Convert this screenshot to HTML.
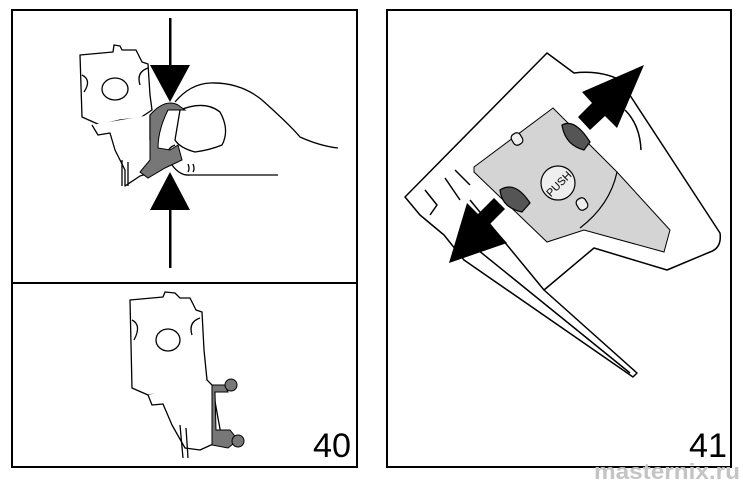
<!DOCTYPE html>
<html><head><style>
html,body{margin:0;padding:0;background:#fff;}
svg{display:block;}
</style></head><body>
<svg width="743" height="483" viewBox="0 0 743 483" xmlns="http://www.w3.org/2000/svg" font-family="Liberation Sans, sans-serif">
<g fill="none" stroke="#000" stroke-width="2">
<rect x="12" y="10" width="345" height="457"/>
<line x1="12" y1="283" x2="357" y2="283"/>
<rect x="387" y="10" width="344" height="457"/>
</g>
<g stroke="#000" stroke-width="1.3" fill="#fff" stroke-linejoin="round">
<path d="M80 55 L113 52 L114 45 L120 46 L122 50 L136 50 L142 62 L148 64 L150 95 L152 110 L140 118 L120 120 L100 125 L82 117 Z"/>
<ellipse cx="115" cy="89" rx="13" ry="11"/>
<path d="M82 75 Q92 80 84 92"/>
<path d="M148 68 Q136 72 140 85"/>
<path d="M92 125 L98 135 L110 133 L115 150 L125 170 L125 186 L140 176 L160 170 L150 140 L150 115"/>
<line x1="122" y1="160" x2="122" y2="186"/>
<line x1="128" y1="162" x2="128" y2="186"/>
<path d="M175 102 Q190 84 210 83 Q240 82 262 100 Q290 125 300 137 Q320 146 338 148"/>
<path d="M175 145 Q162 150 172 165 Q180 176 190 175 L278 175"/>
<path d="M180 110 Q205 100 220 112 Q230 130 222 145 Q210 150 195 152 Q180 148 175 140 Z"/>
<path d="M188 164 Q190 169 188 172 M193 164 Q195 169 193 172"/>
</g>
<path d="M150 115 Q165 98 178 105 L185 110 L168 110 Q158 130 158 148 L170 150 L178 145 L182 160 L165 168 L148 178 L140 172 L150 160 L150 140 Z" fill="#777" stroke="#000" stroke-width="1"/>
<g fill="#000">
<rect x="169" y="18" width="2.5" height="50"/>
<polygon points="150,65 190,65 170,102"/>
<polygon points="150,210 190,210 170,172"/>
<rect x="169" y="208" width="2.5" height="60"/>
</g>
<g stroke="#000" stroke-width="1.3" fill="#fff" stroke-linejoin="round">
<path d="M130 300 L163 297 L165 292 L175 293 L180 298 L190 298 L196 310 L202 312 L204 350 L207 380 L195 388 L170 392 L148 395 L132 388 Z"/>
<ellipse cx="168" cy="340" rx="12" ry="11"/>
<path d="M132 320 Q142 325 134 340"/>
<path d="M200 318 Q188 322 192 335"/>
<path d="M148 395 L152 405 L163 404 L172 425 L185 448 L200 450 L222 440 L212 385 L207 380"/>
<line x1="180" y1="425" x2="183" y2="458"/>
<line x1="186" y1="428" x2="188" y2="458"/>
</g>
<g fill="#777" stroke="#000" stroke-width="1">
<path d="M212 385 L225 385 L228 392 L215 392 L216 430 L230 430 L238 440 L228 448 L212 445 Z"/>
<circle cx="231" cy="385" r="6"/>
<circle cx="238" cy="441" r="6"/>
</g>
<text x="313" y="457" font-size="34" fill="#000" textLength="38" lengthAdjust="spacingAndGlyphs">40</text>
<g stroke="#000" stroke-width="1.5" fill="#fff" stroke-linejoin="round">
<path d="M405 197 L547 53 L574 73 Q600 70 620 80 L720 233 Q722 248 710 252 L667 270 L594 248 L544 290 L637 373 L633 377 L464 260 L444 235 L420 215 Z"/>
<path d="M425 190 L437 205 L430 215 M445 178 L460 200 M455 170 L470 185"/>
<path d="M470 200 L544 290 M478 250 L630 373"/>
<path d="M625 110 Q640 125 641 150"/>
</g>
<path d="M474 167 L553 108 L617 172 L670 230 L664 252 L584 230 L547 242 L474 172 Z" fill="#d4d4d4" stroke="#000" stroke-width="1"/>
<path d="M617 172 Q610 205 580 228" fill="none" stroke="#000" stroke-width="1.2"/>
<g stroke="#000" stroke-width="1.2">
<path d="M562 125 Q575 118 590 142 L584 150 Q565 145 562 125 Z" fill="#555"/>
<path d="M500 190 Q515 180 530 203 L522 212 Q502 208 500 190 Z" fill="#555"/>
<rect x="512" y="133" width="10" height="12" rx="4" fill="#eee" transform="rotate(-30 517 139)"/>
<rect x="577" y="198" width="10" height="12" rx="4" fill="#eee" transform="rotate(-30 582 204)"/>
<circle cx="558" cy="183" r="17" fill="#eee"/>
</g>
<text x="558" y="188" font-size="11" text-anchor="middle" transform="rotate(-45 558 183)">PUSH</text>
<g fill="#000">
<polygon points="644,65 617,128 605,116 590,130 578,117 592,103 582,92"/>
<polygon points="449,263 467,203 478,214 494,198 505,209 490,224 507,243"/>
</g>
<text x="689" y="457" font-size="34" fill="#000" textLength="38" lengthAdjust="spacingAndGlyphs">41</text>
<text x="594" y="479" font-size="22" font-weight="bold" fill="#c4c4c4" textLength="146" lengthAdjust="spacingAndGlyphs">masternix.ru</text>
</svg>
</body></html>
